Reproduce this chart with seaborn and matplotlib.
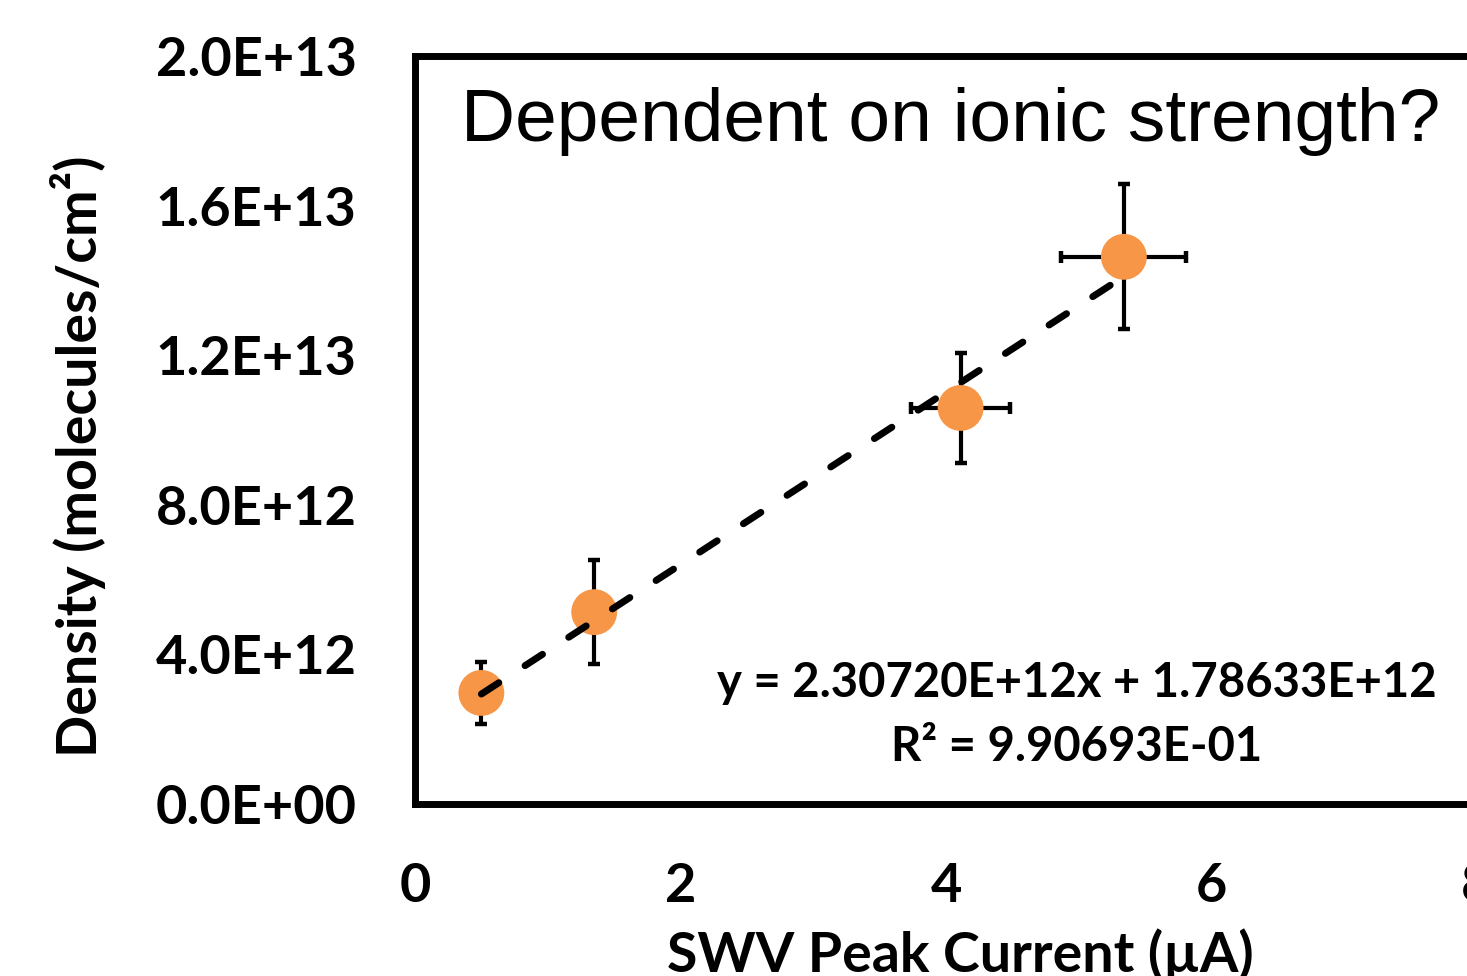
import matplotlib
matplotlib.use("Agg")
import matplotlib.pyplot as plt
import seaborn as sns
import numpy as np
import pandas as pd

# data
current_uA = [0.50, 1.35, 4.11, 5.34]
density = [2.97e12, 5.13e12, 1.059e13, 1.463e13]
current_err = [0.0, 0.0, 0.37, 0.47]
density_err = [0.83e12, 1.39e12, 1.47e12, 1.94e12]
slope = 2.30720e12
intercept = 1.78633e12
r_squared = 9.90693e-01
x_ticks = [0, 2, 4, 6, 8]
y_ticks = [0, 4e12, 8e12, 1.2e13, 1.6e13, 2.0e13]

sns.set_style("white")
plt.rcParams['font.family'] = ['Lato', 'DejaVu Sans']
plt.rcParams['text.color'] = 'black'
plt.rcParams['axes.labelcolor'] = 'black'

df = pd.DataFrame({'current': current_uA, 'density': density})

W, H = 1467, 976
fig = plt.figure(figsize=(W / 100, H / 100), dpi=100)
ax = fig.add_axes([415 / W, 1 - 804 / H, (1477 - 415) / W, (804 - 56) / H])

# error bars behind the markers
ax.errorbar(current_uA, density, xerr=current_err, yerr=density_err, fmt='none',
            ecolor='black', elinewidth=3.0, capsize=4.5, capthick=3.2, zorder=2)
sns.scatterplot(data=df, x='current', y='density', ax=ax, s=1090, color='#F79646',
                edgecolor='none', zorder=3, legend=False)

# linear trendline over the data range
xs = np.array([min(current_uA), max(current_uA)])
ax.plot(xs, slope * xs + intercept, color='black', lw=5, dashes=(3, 4.5),
        dash_capstyle='round', zorder=4)

ax.set_xlim(0, 8)
ax.set_ylim(0, 2.0e13)
ax.set_xticks(x_ticks)
ax.set_yticks(y_ticks)
ax.set_xticklabels([str(t) for t in x_ticks])
ax.set_yticklabels([f"{t:.1E}" for t in y_ticks])

for side in ['left', 'bottom', 'top', 'right']:
    ax.spines[side].set_linewidth(5)
    ax.spines[side].set_color('black')
    ax.spines[side].set_visible(True)

ax.tick_params(axis='x', direction='inout', length=27, width=2.2, pad=28,
               labelsize=39, colors='black')
ax.tick_params(axis='y', direction='out', length=14, width=2.2, pad=28,
               labelsize=39, colors='black')
for lbl in ax.get_xticklabels() + ax.get_yticklabels():
    lbl.set_fontweight('bold')
    lbl.set_clip_on(False)

ax.set_xlabel('SWV Peak Current (µA)', fontsize=40, fontweight='bold')
ax.set_ylabel('Density (molecules/cm²)', fontsize=40, fontweight='bold')
ax.xaxis.set_label_coords((960 - 415) / (1477 - 415), -(955 - 804) / (804 - 56))
ax.xaxis.label.set_verticalalignment('center')
ax.yaxis.set_label_coords(-(415 - 78) / (1477 - 415), (804 - 456) / (804 - 56))
ax.yaxis.label.set_verticalalignment('center')

fig.text(951 / W, 1 - 122 / H, 'Dependent on ionic strength?', fontsize=54,
         family=['Liberation Sans', 'DejaVu Sans'], ha='center', va='center')
fig.text(1077 / W, 1 - 683 / H, f"y = {slope:.5E}x + {intercept:.5E}", fontsize=34,
         fontweight='bold', ha='center', va='center')
fig.text(1077 / W, 1 - 747 / H, f"R² = {r_squared:.5E}", fontsize=34,
         fontweight='bold', ha='center', va='center')

fig.savefig('out.png', dpi=100)
